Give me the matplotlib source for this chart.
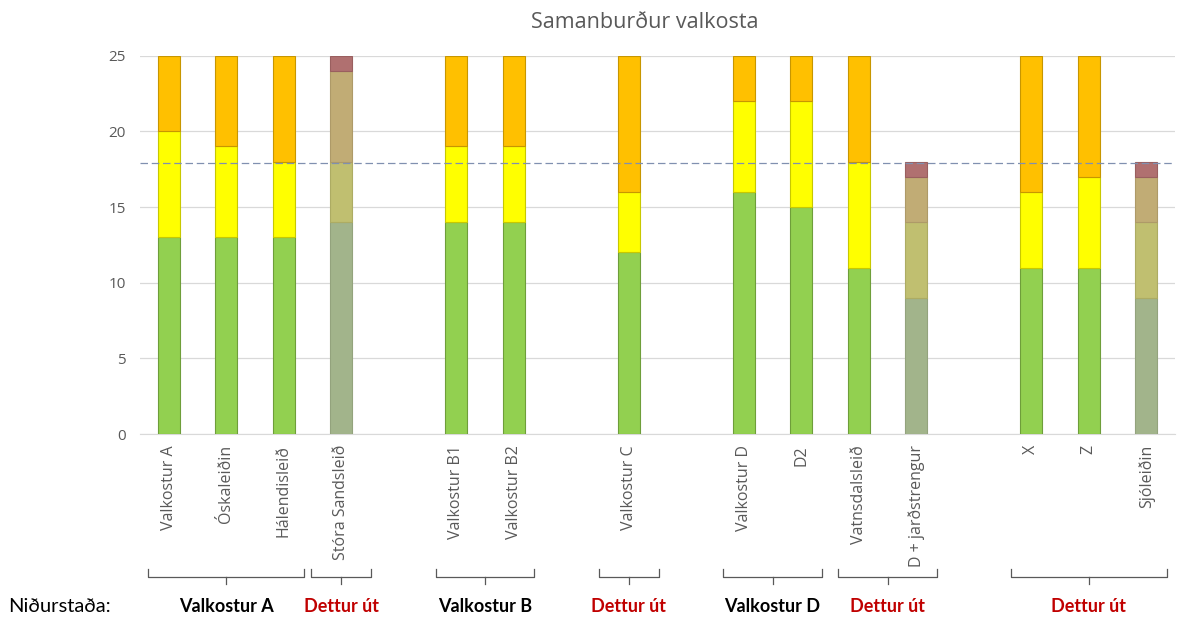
import numpy as np
import matplotlib.pyplot as plt
import matplotlib.transforms as mtransforms
from matplotlib.lines import Line2D

# categories ("" = empty slot between groups)
categories = ["Valkostur A", "Óskaleiðin", "Hálendisleið", "Stóra Sandsleið", "",
              "Valkostur B1", "Valkostur B2", "", "Valkostur C", "",
              "Valkostur D", "D2", "Vatnsdalsleið", "D + jarðstrengur", "",
              "X", "Z", "Sjóleiðin"]
green = [13, 13, 13, 14, 0, 14, 14, 0, 12, 0, 16, 15, 11, 9, 0, 11, 11, 9]
yellow = [7, 6, 5, 4, 0, 5, 5, 0, 4, 0, 6, 7, 7, 5, 0, 5, 6, 5]
orange = [5, 6, 7, 6, 0, 6, 6, 0, 9, 0, 3, 3, 7, 3, 0, 9, 8, 3]
red = [0, 0, 0, 1, 0, 0, 0, 0, 0, 0, 0, 0, 0, 1, 0, 0, 0, 1]
faded = [False, False, False, True, False, False, False, False, False, False,
         False, False, False, True, False, False, False, True]
threshold = 17.9

group_start = [0, 3, 5, 8, 10, 12, 15]
group_end = [2, 3, 6, 8, 11, 13, 17]
group_result = ["Valkostur A", "Dettur út", "Valkostur B", "Dettur út",
                "Valkostur D", "Dettur út", "Dettur út"]

bright = {"g": ("#92D050", "#6E9E3A"), "y": ("#FFFF00", "#C8C800"),
          "o": ("#FFC000", "#C79600"), "r": ("#B07070", "#9A5F5F")}
muted = {"g": ("#A2B48B", "#93A37D"), "y": ("#C0BF70", "#ADAC63"),
         "o": ("#C1AC75", "#AE9A68"), "r": ("#B07070", "#9A5F5F")}

plt.rcParams['font.family'] = ['Open Sans', 'DejaVu Sans']

fig = plt.figure(figsize=(11.82, 6.19), dpi=100)
ax = fig.add_axes([140 / 1182, 1 - 434 / 619, 1035 / 1182, (434 - 55.7) / 619])

x = np.arange(len(categories))
width = 0.39
for i in range(len(categories)):
    pal = muted if faded[i] else bright
    bottom = 0
    for key, vals in (("g", green), ("y", yellow), ("o", orange), ("r", red)):
        v = vals[i]
        if v > 0:
            fc, ec = pal[key]
            ax.bar(x[i], v, width, bottom=bottom, color=fc, edgecolor=ec,
                   linewidth=0.8, zorder=3)
            bottom += v

ax.axhline(threshold, color="#8090B0", linestyle=(0, (6, 3)), linewidth=0.9, zorder=4)

ax.set_xlim(-0.5, len(categories) - 0.5)
ax.set_ylim(0, 25)
ax.set_yticks(range(0, 26, 5))
ax.yaxis.grid(True, color="#D9D9D9", linewidth=0.9, zorder=0)
ax.set_axisbelow(True)
for s in ("top", "right", "left"):
    ax.spines[s].set_visible(False)
ax.spines["bottom"].set_color("#D9D9D9")
ax.tick_params(axis="y", length=0, colors="#595959", labelsize=11, pad=10)
ax.tick_params(axis="x", length=0, colors="#595959", labelsize=11.5, pad=8)
ax.set_xticks(x)
ax.set_xticklabels(categories, rotation=90)

fig.text(645 / 1182, 1 - 22 / 619, "Samanburður valkosta", ha="center", va="center",
         fontsize=15.5, color="#595959")

# brackets and results under the axis
trans = mtransforms.blended_transform_factory(ax.transData, fig.transFigure)
y_top = 1 - 569 / 619
y_line = 1 - 577 / 619
y_tick = 1 - 584 / 619
for s, e, res in zip(group_start, group_end, group_result):
    pad = 0.52 if s == e else 0.36
    x0, x1 = s - pad, e + pad
    xc = (x0 + x1) / 2
    fig.add_artist(Line2D([x0, x0, x1, x1], [y_top, y_line, y_line, y_top],
                          transform=trans, color="#595959", linewidth=0.9))
    fig.add_artist(Line2D([xc, xc], [y_line, y_tick], transform=trans,
                          color="#595959", linewidth=0.9))
    col = "#C00000" if res == "Dettur út" else "black"
    fig.text(xc, 1 - 607 / 619, res, transform=trans, ha="center", va="center",
             fontsize=13, fontweight="bold", color=col, family=["Lato", "DejaVu Sans"])

fig.text(8 / 1182, 1 - 607 / 619, "Niðurstaða:", ha="left", va="center",
         fontsize=14.5, color="black", family=["Lato", "DejaVu Sans"])

fig.savefig("out.png", dpi=100)
